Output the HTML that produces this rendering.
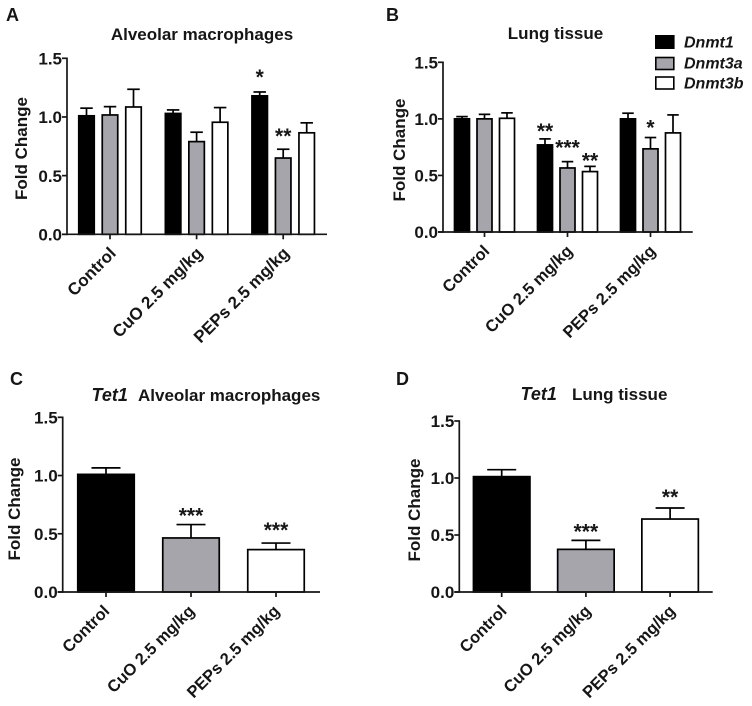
<!DOCTYPE html>
<html lang="en">
<head>
<meta charset="utf-8">
<title>Fold change of Dnmt and Tet1 expression</title>
<style>
html,body{margin:0;padding:0;background:#fff;width:752px;height:706px;overflow:hidden}
svg{display:block}
text{font-family:"Liberation Sans",Arial,sans-serif;font-weight:700;fill:#161616}
.it{font-style:italic}
</style>
</head>
<body>
<svg id="figure" width="752" height="706" viewBox="0 0 752 706" xmlns="http://www.w3.org/2000/svg">
  <text x="6" y="21" font-size="18">A</text>
  <text x="386" y="21" font-size="18">B</text>
  <text x="10" y="385" font-size="18">C</text>
  <text x="396" y="385" font-size="18">D</text>

  <text x="202" y="40" font-size="17" text-anchor="middle">Alveolar macrophages</text>
  <text x="555.5" y="39" font-size="17" text-anchor="middle">Lung tissue</text>
  <text class="it" x="91.5" y="401" font-size="18">Tet1</text>
  <text x="138" y="401" font-size="17">Alveolar macrophages</text>
  <text class="it" x="520.5" y="400" font-size="18">Tet1</text>
  <text x="572" y="400" font-size="17">Lung tissue</text>

  <g>
    <rect x="655.8" y="35.8" width="18" height="12.4" fill="#000" stroke="#000" stroke-width="1.6"/>
    <text class="it" x="684" y="47.5" font-size="16">Dnmt1</text>
    <rect x="655.8" y="57.5" width="18" height="12" fill="#a5a5ab" stroke="#000" stroke-width="1.6"/>
    <text class="it" x="684" y="68.5" font-size="16">Dnmt3a</text>
    <rect x="655.8" y="77" width="18" height="12" fill="#fff" stroke="#000" stroke-width="1.6"/>
    <text class="it" x="684" y="88.5" font-size="16">Dnmt3b</text>
  </g>
</svg>
<script>
var SVG_NS = 'http://www.w3.org/2000/svg';

// Shared axis content
var categories = ['Control', 'CuO 2.5 mg/kg', 'PEPs 2.5 mg/kg'];
var yTicks = [0, 0.5, 1, 1.5];
var yTickLabels = ['0.0', '0.5', '1.0', '1.5'];
var yAxisTitle = 'Fold Change';

// Panel A: Alveolar macrophages
var aDnmt1 = [1.01, 1.03, 1.18];
var aDnmt1Err = [0.065, 0.03, 0.033];
var aDnmt3a = [1.017, 0.79, 0.65];
var aDnmt3aErr = [0.071, 0.08, 0.075];
var aDnmt3b = [1.085, 0.955, 0.865];
var aDnmt3bErr = [0.151, 0.125, 0.085];
var aDnmt1Sig = ['', '', '*'];
var aDnmt3aSig = ['', '', '**'];
var aDnmt3bSig = ['', '', ''];

// Panel B: Lung tissue
var bDnmt1 = [1.0, 0.77, 1.0];
var bDnmt1Err = [0.02, 0.053, 0.05];
var bDnmt3a = [1.0, 0.566, 0.735];
var bDnmt3aErr = [0.04, 0.056, 0.1];
var bDnmt3b = [1.005, 0.534, 0.876];
var bDnmt3bErr = [0.048, 0.046, 0.159];
var bDnmt1Sig = ['', '**', ''];
var bDnmt3aSig = ['', '***', '*'];
var bDnmt3bSig = ['', '**', ''];

// Panel C: Tet1, Alveolar macrophages
var cTet1 = [1.01, 0.464, 0.364];
var cTet1Err = [0.056, 0.115, 0.056];
var cTet1Sig = ['', '***', '***'];

// Panel D: Tet1, Lung tissue
var dTet1 = [1.012, 0.374, 0.64];
var dTet1Err = [0.061, 0.079, 0.097];
var dTet1Sig = ['', '***', '**'];

var BLACK = '#000000';
var GREY = '#a5a5ab';
var WHITE = '#ffffff';
var INK = '#161616';
var STROKE = 1.7;

var svg = document.getElementById('figure');

function make(parent, tag, name, attrs) {
  var el = document.createElementNS(SVG_NS, tag);
  
  
  for (var k in attrs) { el.setAttribute(k, attrs[k]); }
  parent.appendChild(el);
  return el;
}

function drawPanel(p) {
  var g = make(svg, 'g', 'panel-' + p.id, {});
  function yScale(v) { return p.y0 - (v / 1.5) * (p.y0 - p.yTop); }
  function xScale(i) { return p.x0 + i * p.step; }

  p.series.forEach(function (s, si) {
    s.values.forEach(function (v, i) {
      var cx = xScale(i) + (si - (p.series.length - 1) / 2) * p.offset;
      var fill = s.fills ? s.fills[i] : s.fill;
      var top = yScale(v);
      var errTop = yScale(v + s.err[i]);
      var capHalf = p.cap / 2;
      make(g, 'line', 'error-bar-' + s.key + '-' + i, {
        x1: cx, x2: cx, y1: top, y2: errTop, stroke: '#000', 'stroke-width': STROKE
      });
      make(g, 'line', 'error-cap-' + s.key + '-' + i, {
        x1: cx - capHalf, x2: cx + capHalf, y1: errTop, y2: errTop, stroke: '#000', 'stroke-width': STROKE
      });
      make(g, 'rect', 'bar-' + s.key + '-' + i, {
        x: cx - p.barW / 2, y: top, width: p.barW, height: p.y0 - top,
        fill: fill, stroke: '#000', 'stroke-width': STROKE
      });
      if (s.sig[i]) {
        var star = make(g, 'text', 'significance-' + s.key + '-' + i, {
          x: cx, y: errTop - p.starGap(s.key, i) + 9,
          'text-anchor': 'middle', 'font-size': 21
        });
        star.textContent = s.sig[i];
      }
    });
  });

  // y axis
  make(g, 'line', 'y-axis', {
    x1: p.axisX, x2: p.axisX, y1: p.yTop - 0.8, y2: p.y0 + 0.8, stroke: INK, 'stroke-width': STROKE
  });
  yTicks.forEach(function (t, i) {
    make(g, 'line', 'y-tick-' + yTickLabels[i], {
      x1: p.axisX - 5, x2: p.axisX, y1: yScale(t), y2: yScale(t), stroke: INK, 'stroke-width': STROKE
    });
    var lab = make(g, 'text', 'y-tick-label-' + yTickLabels[i], {
      x: p.axisX - 5, y: yScale(t) + 6.2, 'text-anchor': 'end', 'font-size': 17
    });
    lab.textContent = yTickLabels[i];
  });

  // x axis
  make(g, 'line', 'x-axis', {
    x1: p.axisX - 5, x2: p.axisEnd, y1: p.y0, y2: p.y0, stroke: INK, 'stroke-width': STROKE
  });
  categories.forEach(function (c, i) {
    var x = xScale(i);
    make(g, 'line', 'x-tick-' + i, {
      x1: x, x2: x, y1: p.y0, y2: p.y0 + 5, stroke: INK, 'stroke-width': STROKE
    });
    var ax = x + p.labelDx, ay = p.y0 + 20;
    var lab = make(g, 'text', 'x-tick-label-' + i, {
      x: ax, y: ay, 'text-anchor': 'end', 'font-size': p.labelSize,
      transform: 'rotate(-45 ' + ax + ' ' + ay + ')'
    });
    lab.textContent = c;
  });

  // y title
  var tx = p.titleX, ty = p.titleY;
  var title = make(g, 'text', 'y-axis-title', {
    x: tx, y: ty, 'text-anchor': 'middle', 'font-size': 17,
    transform: 'rotate(-90 ' + tx + ' ' + ty + ')'
  });
  title.textContent = yAxisTitle;
}

var gapsA = { dnmt1: 17, dnmt3a: 15, dnmt3b: 13 };
var gapsB = { dnmt1: 10, dnmt3a: 16, dnmt3b: 8 };

drawPanel({
  id: 'a', x0: 110, step: 86.6, offset: 23.5, barW: 15.5, cap: 12.5,
  axisX: 67, axisEnd: 327, y0: 234.3, yTop: 58.3, titleX: 27, titleY: 148.5,
  labelDx: 7, labelSize: 17,
  starGap: function (k) { return gapsA[k]; },
  series: [
    { key: 'dnmt1', values: aDnmt1, err: aDnmt1Err, sig: aDnmt1Sig, fill: BLACK },
    { key: 'dnmt3a', values: aDnmt3a, err: aDnmt3aErr, sig: aDnmt3aSig, fill: GREY },
    { key: 'dnmt3b', values: aDnmt3b, err: aDnmt3bErr, sig: aDnmt3bSig, fill: WHITE }
  ]
});

drawPanel({
  id: 'b', x0: 484.5, step: 83, offset: 22.5, barW: 15, cap: 11.5,
  axisX: 443, axisEnd: 692.7, y0: 232, yTop: 62.3, titleX: 405, titleY: 150,
  labelDx: 6, labelSize: 16.5,
  starGap: function (k, i) { return k === 'dnmt3a' && i === 2 ? 12 : gapsB[k]; },
  series: [
    { key: 'dnmt1', values: bDnmt1, err: bDnmt1Err, sig: bDnmt1Sig, fill: BLACK },
    { key: 'dnmt3a', values: bDnmt3a, err: bDnmt3aErr, sig: bDnmt3aSig, fill: GREY },
    { key: 'dnmt3b', values: bDnmt3b, err: bDnmt3bErr, sig: bDnmt3bSig, fill: WHITE }
  ]
});

drawPanel({
  id: 'c', x0: 106, step: 85, offset: 0, barW: 56.5, cap: 29,
  axisX: 62.7, axisEnd: 320, y0: 592, yTop: 417.3, titleX: 20, titleY: 509,
  labelDx: 4.5, labelSize: 16.5,
  starGap: function (k, i) { return i === 2 ? 15 : 11; },
  series: [
    { key: 'tet1', values: cTet1, err: cTet1Err, sig: cTet1Sig, fills: [BLACK, GREY, WHITE] }
  ]
});

drawPanel({
  id: 'd', x0: 501.7, step: 84.2, offset: 0, barW: 56.5, cap: 29,
  axisX: 459.3, axisEnd: 712.7, y0: 592, yTop: 421, titleX: 420, titleY: 510,
  labelDx: 6, labelSize: 16.5,
  starGap: function (k, i) { return i === 2 ? 13 : 11; },
  series: [
    { key: 'tet1', values: dTet1, err: dTet1Err, sig: dTet1Sig, fills: [BLACK, GREY, WHITE] }
  ]
});
</script>
</body>
</html>
